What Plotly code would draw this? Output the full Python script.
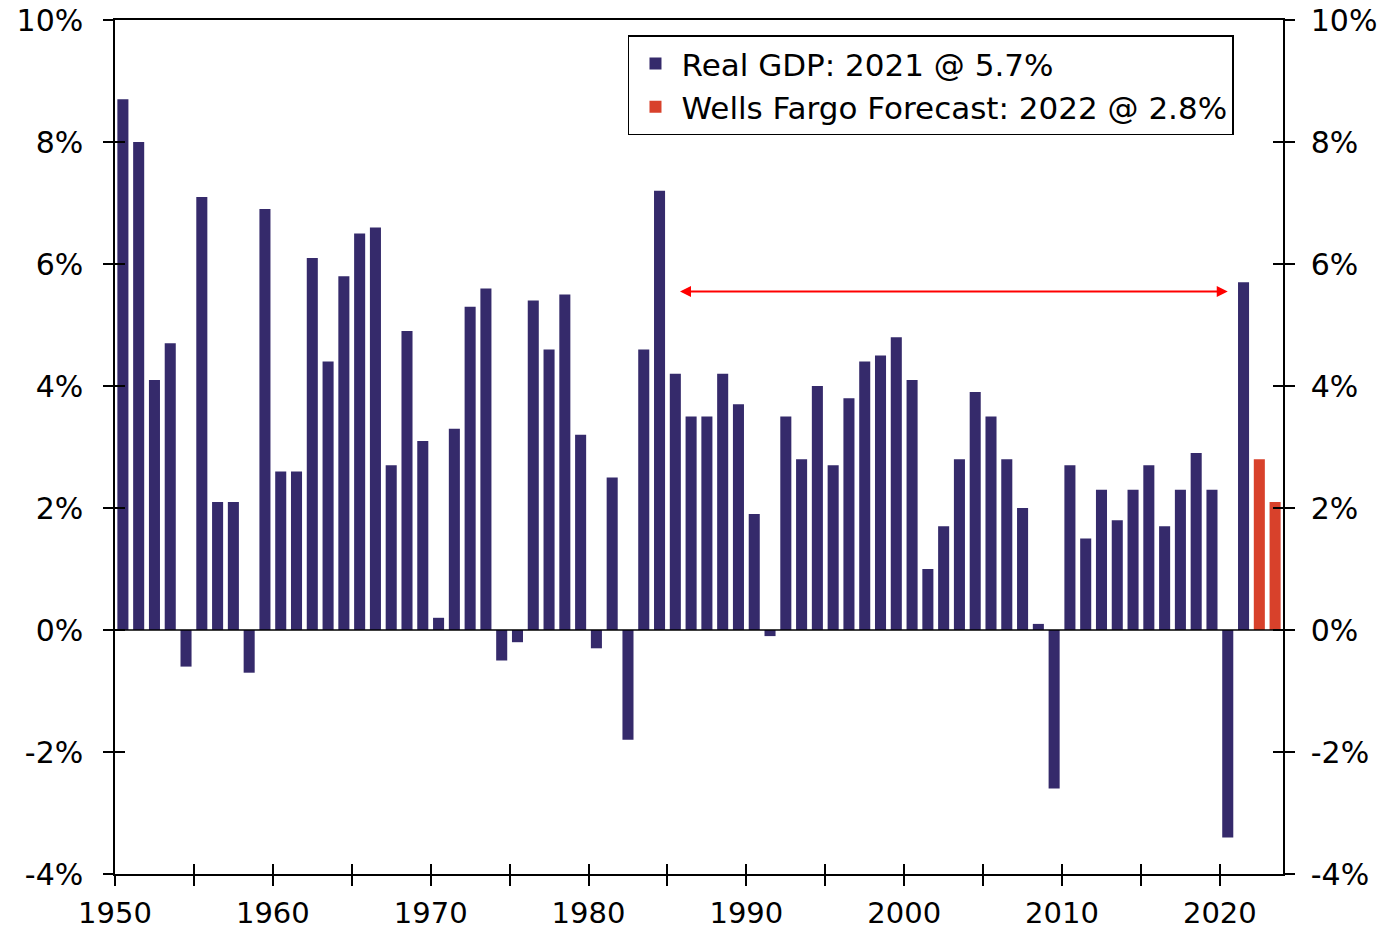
import plotly.graph_objects as go

# ---- data ----
hist_years = list(range(1950, 2022))
hist_values = [8.7, 8.0, 4.1, 4.7, -0.6, 7.1, 2.1, 2.1, -0.7, 6.9,
               2.6, 2.6, 6.1, 4.4, 5.8, 6.5, 6.6, 2.7, 4.9, 3.1,
               0.2, 3.3, 5.3, 5.6, -0.5, -0.2, 5.4, 4.6, 5.5, 3.2,
               -0.3, 2.5, -1.8, 4.6, 7.2, 4.2, 3.5, 3.5, 4.2, 3.7,
               1.9, -0.1, 3.5, 2.8, 4.0, 2.7, 3.8, 4.4, 4.5, 4.8,
               4.1, 1.0, 1.7, 2.8, 3.9, 3.5, 2.8, 2.0, 0.1, -2.6,
               2.7, 1.5, 2.3, 1.8, 2.3, 2.7, 1.7, 2.3, 2.9, 2.3,
               -3.4, 5.7]
fcst_years = [2022, 2023]
fcst_values = [2.8, 2.1]

hist_name = "Real GDP: 2021 @ 5.7%"
fcst_name = "Wells Fargo Forecast: 2022 @ 2.8%"

x_tickvals = list(range(1950, 2025, 5))
x_ticktext = [str(v) if v % 10 == 0 else "" for v in x_tickvals]
y_tickvals = [-4, -2, 0, 2, 4, 6, 8, 10]
y_ticktext = [f"{v}%" for v in y_tickvals]

# arrow annotation span (1985 -> 2020 period marker)
arrow_x0, arrow_x1, arrow_y = 1985.7, 2020.5, 5.55

NAVY = "#352A6B"
RED = "#D8412B"
FONT = "DejaVu Sans, Verdana, sans-serif"

fig = go.Figure()
fig.add_trace(go.Bar(x=hist_years, y=hist_values, name=hist_name,
                     marker=dict(color=NAVY, line=dict(width=0)),
                     width=0.7, offset=0.15, legendgroup="a"))
fig.add_trace(go.Bar(x=fcst_years, y=fcst_values, name=fcst_name,
                     marker=dict(color=RED, line=dict(width=0)),
                     width=0.7, offset=0.15, legendgroup="b"))
# empty helper traces so the overlaying tick axes get drawn
for ya in ["y2", "y3", "y4"]:
    fig.add_trace(go.Scatter(x=[], y=[], yaxis=ya, showlegend=False, hoverinfo="skip"))
fig.add_trace(go.Scatter(x=[], y=[], xaxis="x2", showlegend=False, hoverinfo="skip"))

fig.add_annotation(x=arrow_x1, y=arrow_y, ax=arrow_x0, ay=arrow_y,
                   xref="x", yref="y", axref="x", ayref="y",
                   text="", showarrow=True, arrowhead=2, arrowside="end+start",
                   arrowsize=1.1, arrowwidth=2, arrowcolor="#FF0000")

tickfont = dict(family=FONT, size=30, color="black")
xtickfont = dict(family=FONT, size=29, color="black")
common_y = dict(range=[-4, 10], tickvals=y_tickvals, showgrid=False, zeroline=False,
                ticklen=10, tickwidth=1.5, tickcolor="black", automargin=False)

fig.update_layout(
    width=1389, height=930,
    margin=dict(l=115, r=106, t=20, b=56, autoexpand=False),
    paper_bgcolor="white", plot_bgcolor="white",
    barmode="overlay",
    showlegend=True,
    legend=dict(x=0.4392, y=0.982, xanchor="left", yanchor="top",
                bordercolor="black", borderwidth=1.5, bgcolor="white",
                font=dict(family=FONT, size=31, color="black"),
                tracegroupgap=0, itemwidth=42),
    xaxis=dict(range=[1950, 2024], tickvals=x_tickvals, ticktext=x_ticktext,
               ticks="outside", ticklen=10, tickwidth=1.5, tickcolor="black",
               showline=True, linecolor="black", linewidth=1.5, mirror=True,
               showgrid=False, zeroline=False, tickfont=xtickfont,
               ticklabelstandoff=2, automargin=False),
    xaxis2=dict(range=[1950, 2024], tickvals=x_tickvals, overlaying="x", side="bottom",
                anchor="y", ticks="inside", ticklen=10, tickwidth=1.5, tickcolor="black",
                showticklabels=False, showline=False, showgrid=False, zeroline=False,
                automargin=False),
    yaxis=dict(**common_y, ticktext=y_ticktext, ticks="outside",
               showline=True, linecolor="black", linewidth=1.5,
               tickfont=tickfont, ticklabelstandoff=14),
    yaxis2=dict(**common_y, ticktext=y_ticktext, ticks="outside", overlaying="y",
                side="right", anchor="x", showline=True, linecolor="black", linewidth=1.5,
                tickfont=tickfont, ticklabelstandoff=10),
    yaxis3=dict(**common_y, ticks="inside", overlaying="y", side="left", anchor="x",
                showticklabels=False, showline=False),
    yaxis4=dict(**common_y, ticks="inside", overlaying="y", side="right", anchor="x",
                showticklabels=False, showline=False),
    shapes=[dict(type="line", xref="paper", yref="y", x0=0, x1=1, y0=0, y1=0,
                 line=dict(color="black", width=1.5), layer="above")],
)

fig.write_html("out.html", config={"displayModeBar": False},
               post_script="document.body.style.margin='0';document.body.style.overflow='hidden';")
